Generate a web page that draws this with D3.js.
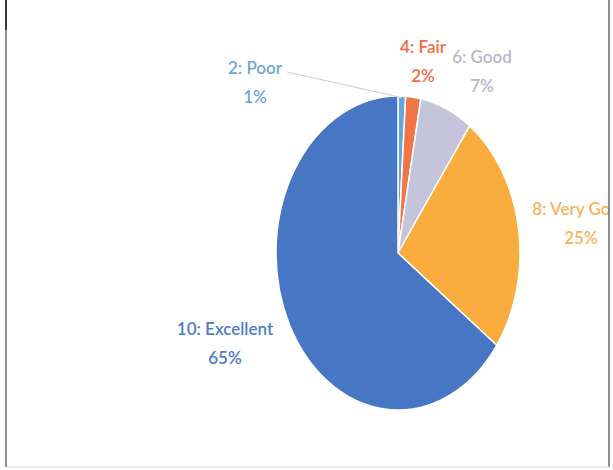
<!DOCTYPE html>
<html>
<head>
<meta charset="utf-8">
<script src="https://cdn.jsdelivr.net/npm/d3@7"></script>
<style>
  html, body { margin: 0; padding: 0; background: #fff; }
  svg { display: block; }
</style>
</head>
<body>
<div id="chart"></div>
<script>
// Rating split pie (scanned Excel look)
const categories = ['2: Poor', '4: Fair', '6: Good', '8: Very Good', '10: Excellent'];
const values = [1, 2, 7, 25, 65];
const percentLabels = ['1%', '2%', '7%', '25%', '65%'];

const sliceColors = ['#6aa6de', '#f27548', '#c6c4da', '#fbac3f', '#4776c5'];
const textColors = ['#6ea6dc', '#ef6d42', '#b9b6cf', '#f7b45a', '#4f7cc4'];

// label anchor (centre of first line baseline) per slice
const labelAt = [[255, 74], [423, 53], [482, 63], [581, 215], [225, 335]];

const width = 613, height = 470;
const cx = 398, cy = 253, ry = 157, rx = 122;

const svg = d3.select('#chart')
  .append('svg')
  .attr('width', width)
  .attr('height', height);

svg.append('rect')
  .attr('width', width).attr('height', height)
  .attr('fill', '#fff');

// clip so the right label gets cut at the frame like the reference
svg.append('clipPath').attr('id', 'frame')
  .append('rect').attr('x', 0).attr('y', 0).attr('width', 609).attr('height', height);

const pie = d3.pie().sort(null).value(d => d);
const arcs = pie(values);
const arc = d3.arc().innerRadius(0).outerRadius(ry);

// circle squashed horizontally into an ellipse
const g = svg.append('g')
  .attr('transform', `translate(${cx},${cy}) scale(${rx / ry},1)`);

g.selectAll('path')
  .data(arcs)
  .join('path')
  .attr('d', arc)
  .attr('fill', (d, i) => sliceColors[i])
  .attr('stroke', '#fff')
  .attr('stroke-width', 1.5)
  .attr('vector-effect', 'non-scaling-stroke');

// leader line for the tiny Poor slice
const a0 = (arcs[0].startAngle + arcs[0].endAngle) / 2;
svg.append('line')
  .attr('x1', 287).attr('y1', 72)
  .attr('x2', cx + Math.sin(a0) * rx * 0.99)
  .attr('y2', cy - Math.cos(a0) * ry * 0.99)
  .attr('stroke', '#c8ccd4')
  .attr('stroke-width', 1);

const labels = svg.append('g')
  .attr('clip-path', 'url(#frame)')
  .attr('font-family', 'Lato, "Open Sans", sans-serif')
  .attr('font-size', 17)
  .attr('font-weight', 600)
  .attr('text-anchor', 'middle');

categories.forEach((c, i) => {
  const t = labels.append('text')
    .attr('x', labelAt[i][0])
    .attr('y', labelAt[i][1])
    .attr('fill', textColors[i]);
  t.append('tspan').attr('x', labelAt[i][0]).text(c);
  t.append('tspan').attr('x', labelAt[i][0]).attr('dy', 29).text(percentLabels[i]);
});

// scanned frame edges
svg.append('line').attr('x1', 6).attr('y1', 0).attr('x2', 6).attr('y2', 467)
  .attr('stroke', '#6b6b6b').attr('stroke-width', 1.5);
svg.append('line').attr('x1', 6).attr('y1', 0).attr('x2', 6).attr('y2', 30)
  .attr('stroke', '#3a3a3a').attr('stroke-width', 2);
svg.append('line').attr('x1', 609).attr('y1', 0).attr('x2', 609).attr('y2', 467)
  .attr('stroke', '#6b6b6b').attr('stroke-width', 1.5);
svg.append('line').attr('x1', 6).attr('y1', 467).attr('x2', 609).attr('y2', 467)
  .attr('stroke', '#d6d6d6').attr('stroke-width', 1);
</script>
</body>
</html>
